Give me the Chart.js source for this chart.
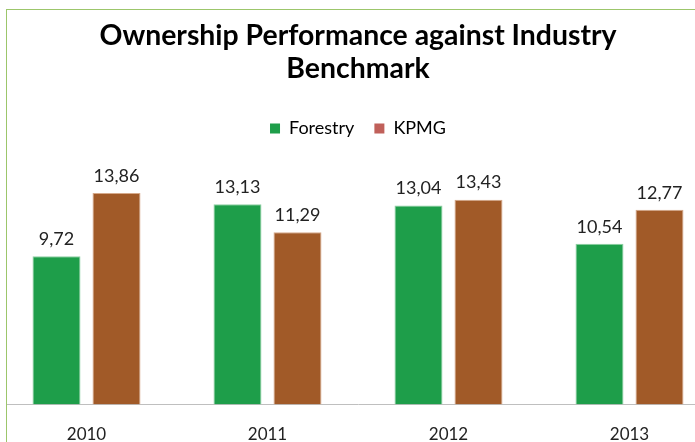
<!DOCTYPE html>
<html>
<head>
<meta charset="utf-8">
<script src="https://cdn.jsdelivr.net/npm/chart.js@4"></script>
<style>
  html, body { margin: 0; padding: 0; background: #fff; }
  #frame {
    position: absolute; left: 6px; top: 9px; width: 689px; height: 433px;
    border-left: 1px solid #9cc66b; border-top: 1px solid #9cc66b;
    overflow: hidden; box-sizing: border-box;
  }
  #wrap { position: absolute; left: -18px; top: -10px; width: 734px; height: 457px; }
</style>
</head>
<body>
<div id="frame"><div id="wrap"><canvas id="chart"></canvas></div></div>
<script>
const years = ["2010", "2011", "2012", "2013"];
const forestry = [9.72, 13.13, 13.04, 10.54];
const kpmg = [13.86, 11.29, 13.43, 12.77];

// labels above each bar, comma decimals
const barLabels = {
    id: "barLabels",
    afterDatasetsDraw(chart) {
        const ctx = chart.ctx;
        ctx.save();
        ctx.font = "18px Lato";
        ctx.fillStyle = "#222";
        ctx.textAlign = "center";
        ctx.textBaseline = "bottom";
        chart.data.datasets.forEach((ds, i) => {
            chart.getDatasetMeta(i).data.forEach((bar, j) => {
                ctx.fillText(ds.data[j].toFixed(2).replace(".", ","), bar.x, bar.y - 8);
            });
        });
        ctx.restore();
    },
};

// extra space below the legend
const legendGap = {
    id: "legendGap",
    beforeInit(chart) {
        const fit = chart.legend.fit;
        chart.legend.fit = function () {
            fit.bind(chart.legend)();
            this.height += 13;
        };
    },
};

const ctx = document.getElementById("chart").getContext("2d");
new Chart(ctx, {
    type: "bar",
    data: {
        labels: years,
        datasets: [
            {
                label: "Forestry",
                data: forestry,
                backgroundColor: "#1e9e4a",
                borderColor: "#8fd0a4",
                borderWidth: 1,
            },
            {
                label: "KPMG",
                data: kpmg,
                backgroundColor: "#a15a28",
                borderColor: "#d6a98a",
                borderWidth: 1,
            },
        ],
    },
    options: {
        responsive: true,
        maintainAspectRatio: false,
        animation: false,
        layout: { padding: { left: 7, right: 3, top: 0, bottom: 0 } },
        datasets: { bar: { categoryPercentage: 0.663, barPercentage: 0.8 } },
        scales: {
            x: {
                grid: { display: false },
                border: { display: true, color: "#bfbfbf", width: 1 },
                ticks: { color: "#222", font: { family: "Lato", size: 17 }, padding: 12 },
            },
            y: {
                display: false,
                min: 0,
                max: 16,
            },
        },
        plugins: {
            title: {
                display: true,
                text: ["Ownership Performance against Industry", "Benchmark"],
                color: "#000",
                font: { family: "Lato", size: 28.4, weight: "bold", lineHeight: 1.17 },
                padding: { top: 19, bottom: 14 },
            },
            legend: {
                labels: {
                    boxWidth: 10,
                    boxHeight: 10,
                    color: "#222",
                    font: { family: "Lato", size: 18 },
                    padding: 20,
                    generateLabels: () => [
                        { text: "Forestry", fillStyle: "#1e9e4a", strokeStyle: "#1e9e4a", lineWidth: 0, datasetIndex: 0 },
                        { text: "KPMG", fillStyle: "#c0605a", strokeStyle: "#c0605a", lineWidth: 0, datasetIndex: 1 },
                    ],
                },
            },
            tooltip: { enabled: false },
        },
    },
    plugins: [barLabels, legendGap],
});
</script>
</body>
</html>
